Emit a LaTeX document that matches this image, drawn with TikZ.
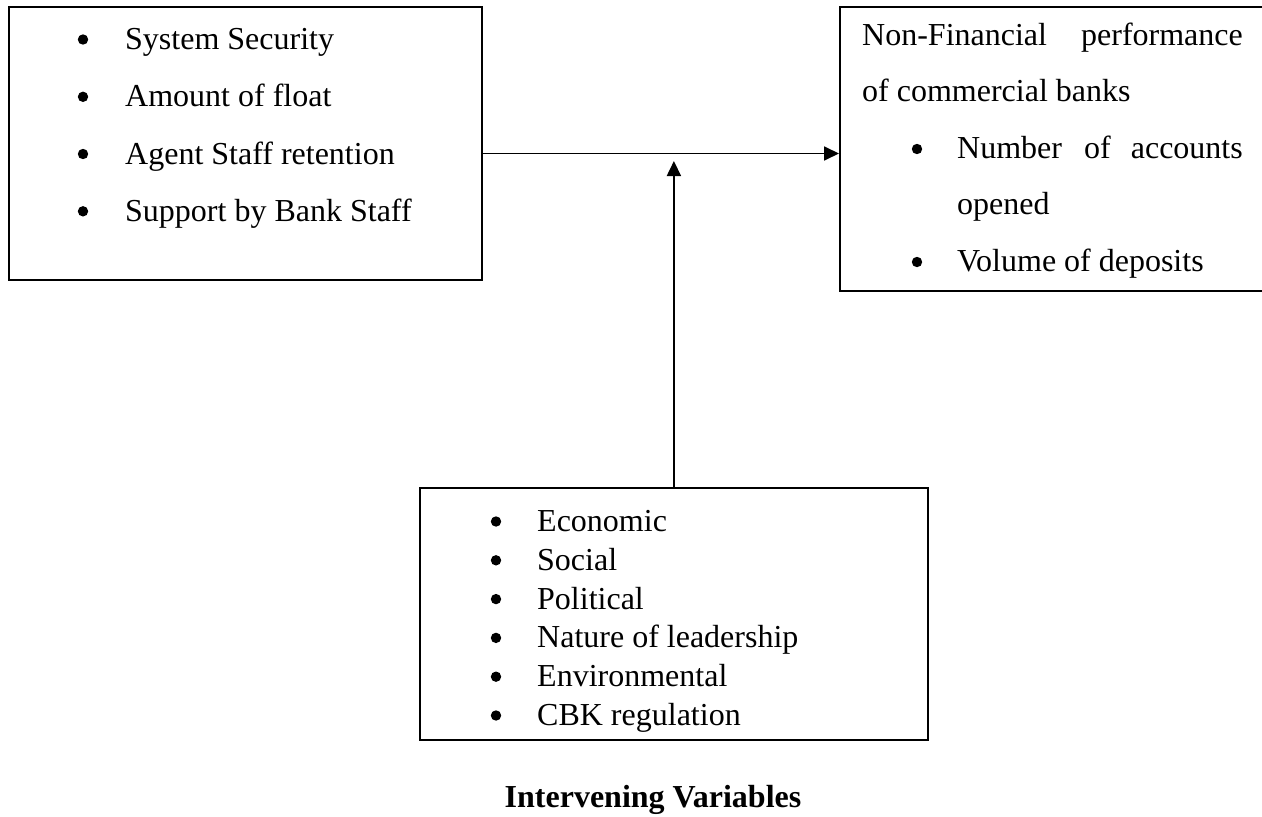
\documentclass[tikz,border=0pt]{standalone}
\usepackage{fontspec}
\setmainfont{Liberation Serif}
\usetikzlibrary{arrows.meta}
\begin{document}
\begin{tikzpicture}[x=1pt,y=-1pt,
  box/.style={draw=black, line width=1.8pt, fill=none, inner sep=0pt, anchor=north west},
  txt/.style={inner sep=0pt, anchor=base west, font=\fontsize{32}{38}\selectfont},
  txtr/.style={inner sep=0pt, anchor=base east, font=\fontsize{32}{38}\selectfont},
  ttl/.style={inner sep=0pt, anchor=base, font=\fontsize{32}{38}\selectfont\bfseries},
  arr/.style={line width=1.8pt, -{Triangle[length=15pt,width=14pt]}},
  bul/.style={fill=black}
]
\clip (0,0) rectangle (1262,817);
\fill[white] (0,0) rectangle (1262,817);

% boxes
\node[box, minimum width=473pt, minimum height=273pt] (L) at (8,6) {};
\node[box, minimum width=440pt, minimum height=284pt] (R) at (839,6) {};
\node[box, minimum width=508pt, minimum height=252pt] (B) at (419,487) {};

% left box items
\foreach \yy/\t [count=\i] in {49.5/System Security, 106.8/Amount of float, 164/Agent Staff retention, 221.3/Support by Bank Staff}{
  \fill[bul] (83,\yy-10) circle (5.2);
  \node[txt] (l\i) at (125,\yy) {\t};
}

% right box text
\node[txt] (r1a) at (862,45) {Non-Financial};
\node[txtr] (r1b) at (1243,45) {performance};
\node[txt] (r2) at (862,101.5) {of commercial banks};
\fill[bul] (917,149) circle (5.2);
\node[txt] (r3a) at (957,158) {Number};
\node[txt] (r3b) at (1084,158) {of};
\node[txtr] (r3c) at (1243,158) {accounts};
\node[txt] (r4) at (957,214.5) {opened};
\fill[bul] (917,262) circle (5.2);
\node[txt] (r5) at (957,271) {Volume of deposits};

% bottom box items
\foreach \t [count=\i] in {Economic, Social, Political, Nature of leadership, Environmental, CBK regulation}{
  \pgfmathsetmacro{\yy}{531.5+38.8*(\i-1)}
  \fill[bul] (496,\yy-10) circle (5.2);
  \node[txt] (b\i) at (537,\yy) {\t};
}

% title
\node[ttl] (title) at (653,807) {Intervening Variables};

% connectors
\coordinate (hy) at (0,153.5);
\coordinate (vy) at (0,161);
\draw[arr] (L.north east |- hy) -- (R.north west |- hy);
\draw[arr] (B.north) -- (B.north |- vy);
\end{tikzpicture}
\end{document}
